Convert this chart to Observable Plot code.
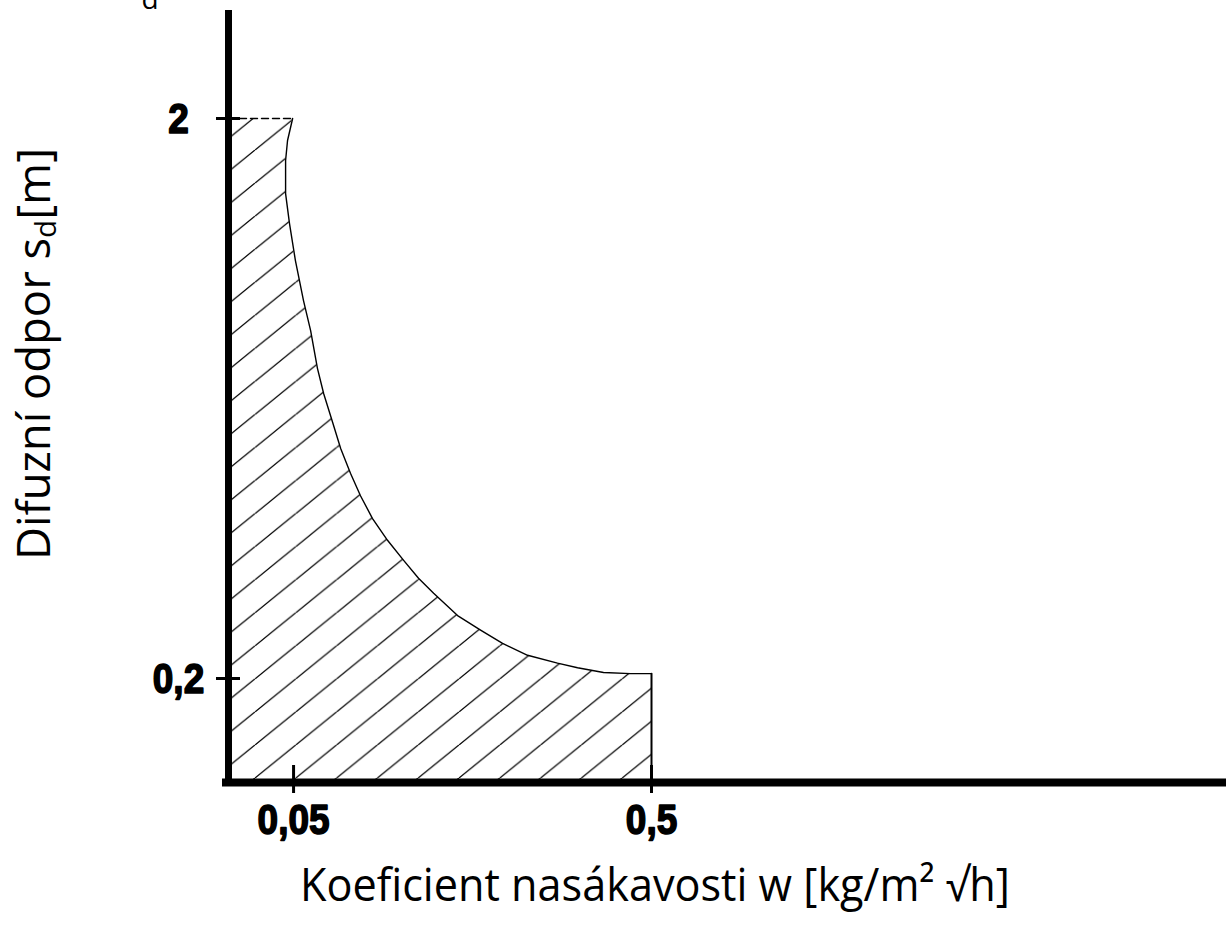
<!DOCTYPE html>
<html>
<head>
<meta charset="utf-8">
<script src="https://cdn.jsdelivr.net/npm/d3@7"></script>
<script src="https://cdn.jsdelivr.net/npm/@observablehq/plot@0.6"></script>
<style>
  html, body { margin: 0; padding: 0; background: #fff; }
  #chart { width: 1226px; height: 933px; overflow: hidden; }
</style>
</head>
<body>
<div id="chart"></div>
<script>
// Boundary curve of the hatched region: w [kg/m² √h] vs s_d [m]
const w  = [0.0497, 0.0481, 0.0475, 0.0475, 0.0487, 0.0506, 0.0533, 0.0558, 0.0583, 0.0607, 0.0643, 0.0677, 0.0721, 0.0769,
            0.0831, 0.0915, 0.1015, 0.1117, 0.1231, 0.1436, 0.1665, 0.1918, 0.2253, 0.2731, 0.3107, 0.3672, 0.4368, 0.5];
const sd = [2.0, 1.827, 1.683, 1.469, 1.299, 1.115, 0.946, 0.836, 0.716, 0.645, 0.573, 0.515, 0.465, 0.424,
            0.386, 0.353, 0.325, 0.302, 0.284, 0.259, 0.244, 0.231, 0.220, 0.213, 0.209, 0.205, 0.204, 0.204];

const xTicks = [0.05, 0.5];
const xTickLabels = ["0,05", "0,5"];
const yTicks = [0.2, 2];
const yTickLabels = ["0,2", "2"];

const xDomain = [0.0329, 20.2];
const yDomain = [0.1304, 3.118];

const xLabel = "Koeficient nasákavosti w [kg/m² √h]";
const yLabelParts = ["Difuzní odpor s", "d", "[m]"];
const strayText = "d";

// derived tables
const curve = w.map((v, i) => ({w: v, sd: sd[i]}));
const last = curve[curve.length - 1];
const fillRows = [...curve, {w: last.w, sd: yDomain[0]}];
const topEdge = [{w: xDomain[0], sd: sd[0]}, {w: w[0], sd: sd[0]}];
const rightEdge = [{w: last.w, sd: last.sd}, {w: last.w, sd: yDomain[0]}];
const xLabelRows = xTicks.map((v, i) => ({w: v, label: xTickLabels[i]}));
const yLabelRows = yTicks.map((v, i) => ({sd: v, label: yTickLabels[i]}));

const tickFont = "'Liberation Sans', Arial, sans-serif";

const svg = Plot.plot({
  width: 1226,
  height: 933,
  marginLeft: 228,
  marginRight: 0,
  marginTop: 10,
  marginBottom: 151,
  x: {type: "log", domain: xDomain, label: null, axis: null},
  y: {type: "log", domain: yDomain, label: null, axis: null},
  style: {background: "white", color: "black", overflow: "visible"},
  marks: [
    Plot.areaX(fillRows, {y: "sd", x1: xDomain[0], x2: "w", fill: "url(#hatch)", curve: "linear"}),
    Plot.line(curve, {x: "w", y: "sd", stroke: "black", strokeWidth: 1.4}),
    Plot.line(topEdge, {x: "w", y: "sd", stroke: "black", strokeWidth: 1.4, strokeDasharray: "7,4"}),
    Plot.line(rightEdge, {x: "w", y: "sd", stroke: "black", strokeWidth: 2}),
    Plot.ruleX([xDomain[0]], {stroke: "black", strokeWidth: 7, insetBottom: -4}),
    Plot.ruleY([yDomain[0]], {stroke: "black", strokeWidth: 8, insetLeft: -6}),
    Plot.axisY({ticks: yTicks, tickSize: 24, dx: 12, tickFormat: () => "", strokeWidth: 3, label: null}),
    Plot.axisX({ticks: xTicks, tickSize: 28, dy: -17, tickFormat: () => "", strokeWidth: 3, label: null}),
    Plot.text(yLabelRows, {y: "sd", text: "label", frameAnchor: "left", textAnchor: "middle", dx: -50, dy: 1,
              fontSize: 42, fontWeight: "bold", fontFamily: tickFont, fill: "black",
              stroke: "black", strokeWidth: 1.6, className: "ticklab"}),
    Plot.text(xLabelRows, {x: "w", text: "label", frameAnchor: "bottom", lineAnchor: "top", textAnchor: "middle", dy: 22,
              fontSize: 42, fontWeight: "bold", fontFamily: tickFont, fill: "black",
              stroke: "black", strokeWidth: 1.6, className: "ticklab"})
  ]
});

const sel = d3.select(svg);
// condense the bold tick labels horizontally (the original uses a condensed face)
sel.selectAll(".ticklab text").each(function() {
  const t = this.getAttribute("transform") || "";
  this.setAttribute("transform", t + " scale(0.88,1)");
});

// hatch pattern
const pw = 40.8, ph = 33.05;
const defs = sel.insert("defs", ":first-child");
const pat = defs.append("pattern")
  .attr("id", "hatch")
  .attr("patternUnits", "userSpaceOnUse")
  .attr("x", 255).attr("y", 778)
  .attr("width", pw).attr("height", ph);
pat.append("path")
  .attr("d", `M0,${ph}L${pw},0M${-pw},${ph}L0,0M${pw},${ph}L${2 * pw},0`)
  .attr("stroke", "black").attr("stroke-width", 1.3).attr("fill", "none");

// axis titles
const titleFont = "'Open Sans', 'Noto Sans', sans-serif";
sel.append("text")
  .attr("x", 655).attr("y", 901)
  .attr("text-anchor", "middle")
  .attr("font-family", titleFont).attr("font-size", 46)
  .attr("textLength", 710).attr("lengthAdjust", "spacingAndGlyphs")
  .attr("fill", "black")
  .text(xLabel);

const yl = sel.append("text")
  .attr("transform", "translate(50,354) rotate(-90)")
  .attr("text-anchor", "middle")
  .attr("font-family", titleFont).attr("font-size", 46)
  .attr("textLength", 412).attr("lengthAdjust", "spacingAndGlyphs")
  .attr("fill", "black");
yl.append("tspan").text(yLabelParts[0]);
yl.append("tspan").attr("font-size", 30).attr("dy", 6).text(yLabelParts[1]);
yl.append("tspan").attr("dy", -6).text(yLabelParts[2]);

sel.append("text")
  .attr("x", 150).attr("y", 9)
  .attr("text-anchor", "middle")
  .attr("font-family", titleFont).attr("font-size", 28)
  .attr("fill", "black")
  .text(strayText);

document.getElementById("chart").appendChild(svg);
</script>
</body>
</html>
